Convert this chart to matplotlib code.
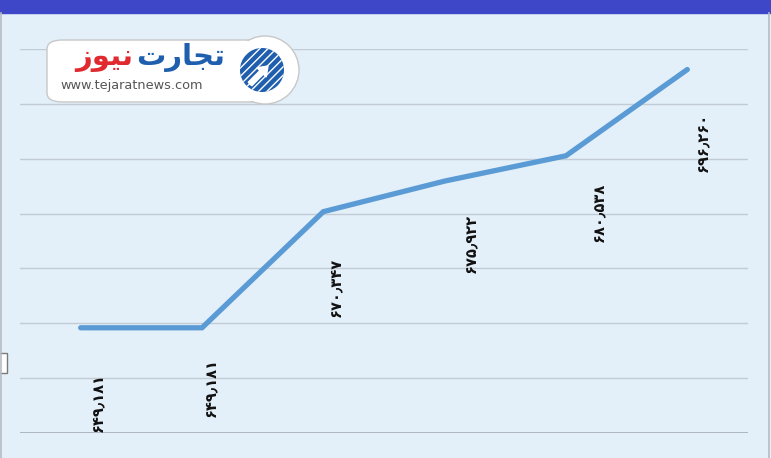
import matplotlib.pyplot as plt
from matplotlib.patches import Rectangle, FancyBboxPatch, Circle, FancyArrow
from matplotlib.ticker import MultipleLocator

# values
values = [649181, 649181, 670347, 675922, 680538, 696260]
labels = ["۶۴۹٫۱۸۱", "۶۴۹٫۱۸۱", "۶۷۰٫۳۴۷", "۶۷۵٫۹۲۲", "۶۸۰٫۵۳۸", "۶۹۶٫۲۶۰"]
# label placement (pixels right / down of each point)
label_dx = [17, 9, 12, 27, 34, 16]
label_dy = [75, 60, 76, 62, 57, 73]

W, H = 771, 458
fig = plt.figure(figsize=(W / 100, H / 100), dpi=100)
fig.patch.set_facecolor("#e3f0f9")

# header bar and frame
fig.add_artist(Rectangle((0, 1 - 13 / H), 1, 13 / H, transform=fig.transFigure,
                         color="#3d47c8", zorder=0))
fig.add_artist(plt.Line2D([769 / W, 769 / W], [0, 1 - 13 / H], transform=fig.transFigure,
                          color="#b5bcc4", lw=1.2))
fig.add_artist(plt.Line2D([1 / W, 1 / W], [0, 1 - 13 / H], transform=fig.transFigure,
                          color="#b5bcc4", lw=1.2))
fig.add_artist(Rectangle((-2 / W, 1 - 373 / H), 9 / W, 20 / H, transform=fig.transFigure,
                         facecolor="white", edgecolor="#7a7a7a", lw=1))

ax = fig.add_axes([20 / W, 1 - 433 / H, 728 / W, 384 / H])
ax.set_facecolor("none")
x = list(range(len(values)))
ax.plot(x, values, color="#5b9bd5", lw=3.8, solid_capstyle="round",
        solid_joinstyle="miter", zorder=3)
ax.set_xlim(-0.5, len(values) - 0.5)
ax.set_ylim(630000, 700000)
ax.yaxis.set_major_locator(MultipleLocator(10000))
ax.grid(axis="y", color="#c3ccd4", lw=1)
ax.set_xticks([])
ax.tick_params(left=False, labelleft=False)
for s in ax.spines.values():
    s.set_visible(False)
ax.axhline(630000, color="#a5adb5", lw=1.2, zorder=2)

for i, (v, lab) in enumerate(zip(values, labels)):
    ax.annotate(lab, (i, v), xytext=(label_dx[i] * 0.72, -label_dy[i] * 0.72),
                textcoords="offset points", rotation=90, ha="center", va="center",
                fontsize=10.5, fontweight="bold", color="#111111",
                family=["DejaVu Sans"])

# logo
fig.add_artist(FancyBboxPatch((47 / W, 1 - 102 / H), 224 / W, 62 / H,
                              boxstyle="round,pad=0,rounding_size=0.02",
                              transform=fig.transFigure, facecolor="white",
                              edgecolor="#c8c8c8", lw=1, zorder=5))
lx = fig.add_axes([0, 0, 1, 1], zorder=6)
lx.set_xlim(0, W)
lx.set_ylim(H, 0)
lx.axis("off")
lx.set_aspect("equal")
lx.add_patch(Circle((265, 70), 34, facecolor="white", edgecolor="#c8c8c8", lw=1))
lx.add_patch(Rectangle((228, 41), 40, 60, facecolor="white", edgecolor="none"))
lx.add_patch(Circle((262, 70), 22, facecolor="#1f5fae", edgecolor="#1f5fae", lw=0))
lx.add_patch(Circle((262, 70), 22, facecolor="none", edgecolor="white", lw=0,
                    hatch="////"))
lx.add_patch(FancyArrow(250, 84, 18, -18, width=5, head_width=13, head_length=9,
                        color="white", length_includes_head=True))
lx.text(133, 58, "\uFEAF\uFEEE\uFEF4\uFEE7", color="#e02a2f", fontsize=21,
        fontweight="bold", ha="right", va="center", family=["DejaVu Sans"])
lx.text(136, 58, "\uFE95\uFEAD\uFE8E\uFEA0\uFE97", color="#1f5fae", fontsize=21,
        fontweight="bold", ha="left", va="center", family=["DejaVu Sans"])
lx.text(60, 86, "www.tejaratnews.com", color="#555555", fontsize=9.3,
        ha="left", va="center")

fig.savefig("out.png", dpi=100, facecolor=fig.get_facecolor())
